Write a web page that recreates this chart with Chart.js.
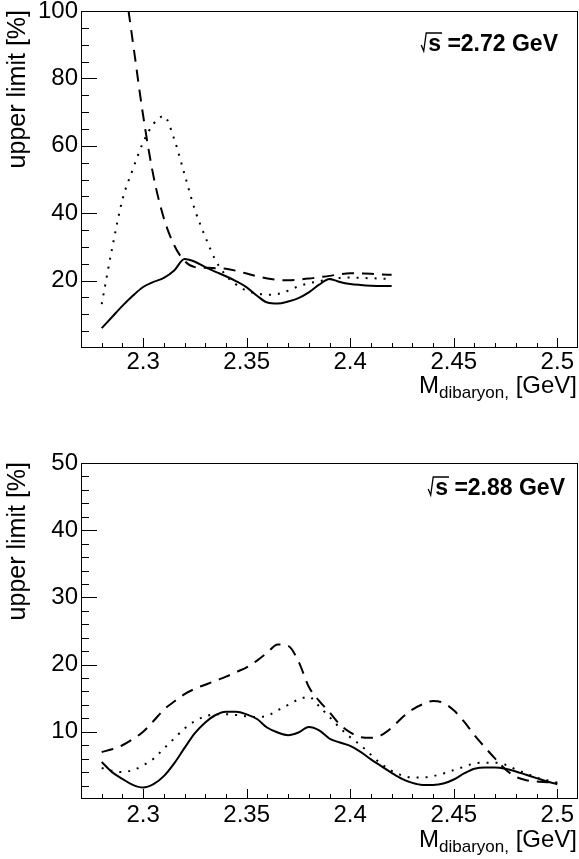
<!DOCTYPE html>
<html>
<head>
<meta charset="utf-8">
<script src="https://cdn.jsdelivr.net/npm/chart.js@4.4.0/dist/chart.umd.min.js"></script>
<style>
    html, body { margin: 0; padding: 0; background: #fff; }
    #wrap { position: relative; width: 579px; height: 859px; }
    canvas { position: absolute; left: 0; }
</style>
</head>
<body>
<div id="wrap">
    <canvas id="topChart" width="579" height="420" style="top:0"></canvas>
    <canvas id="bottomChart" width="579" height="439" style="top:420px"></canvas>
</div>
<script>
// --- sqrt(s) = 2.72 GeV panel ---
const massTop = [2.28, 2.285, 2.29, 2.295, 2.30, 2.305, 2.31, 2.315, 2.32, 2.325,
    2.33, 2.335, 2.34, 2.345, 2.35, 2.355, 2.36, 2.365, 2.37, 2.375,
    2.38, 2.385, 2.39, 2.395, 2.40, 2.405, 2.41, 2.415, 2.42];
const solidTop = [5.9, 9.2, 12.5, 15.5, 18.1, 19.6, 20.8, 23.0, 26.4, 25.6,
    24.0, 22.6, 21.3, 19.8, 18.0, 15.5, 13.5, 13.2, 13.8, 14.8,
    16.5, 18.8, 20.5, 19.6, 19.0, 18.7, 18.5, 18.4, 18.4];
const dashedTop = [165, 135, 113, 91, 69, 51, 38.5, 30.5, 25.8, 24.0,
    23.8, 23.7, 23.5, 22.9, 22.1, 21.3, 20.6, 20.2, 20.1, 20.3,
    20.6, 21.0, 21.4, 21.9, 22.2, 22.1, 22.0, 21.8, 21.7];
const dottedTop = [13, 29.5, 44, 53, 61, 66.5, 68.8, 62, 51.5, 41,
    33, 26, 21.5, 18.8, 17.0, 16.2, 15.8, 16.0, 17.0, 18.3,
    19.2, 19.8, 20.4, 20.8, 20.9, 20.8, 20.7, 20.6, 20.5];

// --- sqrt(s) = 2.88 GeV panel ---
const massBottom = [2.28, 2.285, 2.29, 2.295, 2.30, 2.305, 2.31, 2.315, 2.32, 2.325,
    2.33, 2.335, 2.34, 2.345, 2.35, 2.355, 2.36, 2.365, 2.37, 2.375,
    2.38, 2.385, 2.39, 2.395, 2.40, 2.405, 2.41, 2.415, 2.42, 2.425,
    2.43, 2.435, 2.44, 2.445, 2.45, 2.455, 2.46, 2.465, 2.47, 2.475,
    2.48, 2.485, 2.49, 2.495, 2.50];
const solidBottom = [5.5, 4.0, 3.0, 2.1, 1.7, 2.2, 3.4, 5.3, 7.6, 9.8,
    11.4, 12.5, 13.0, 13.0, 12.6, 11.9, 10.6, 9.9, 9.5, 9.9,
    10.7, 10.2, 9.0, 8.4, 7.9, 7.0, 5.9, 4.9, 3.9, 3.0,
    2.4, 2.1, 2.1, 2.3, 2.9, 3.8, 4.5, 4.7, 4.7, 4.5,
    4.1, 3.6, 3.1, 2.6, 2.2];
const dashedBottom = [7.0, 7.4, 8.0, 8.9, 10.0, 11.6, 13.3, 14.5, 15.6, 16.4,
    17.0, 17.6, 18.2, 18.9, 19.6, 20.6, 21.8, 23.0, 22.8, 20.5,
    16.7, 14.6, 12.9, 11.1, 9.9, 9.2, 9.1, 9.5, 10.6, 12.1,
    13.3, 14.1, 14.6, 14.3, 13.2, 11.5, 9.5, 7.7, 6.0, 4.4,
    3.3, 2.8, 2.6, 2.5, 2.4];
const dottedBottom = [4.6, 4.2, 4.0, 4.3, 5.0, 6.0, 7.5, 9.0, 10.5, 11.6,
    12.3, 12.6, 12.6, 12.5, 12.3, 12.2, 12.4, 13.2, 14.0, 14.8,
    15.2, 13.8, 12.2, 10.6, 9.2, 8.0, 6.6, 5.2, 4.2, 3.5,
    3.2, 3.2, 3.4, 3.8, 4.3, 4.8, 5.3, 5.4, 5.4, 5.1,
    4.4, 3.8, 3.2, 2.8, 2.4];

const xTicks = [2.3, 2.35, 2.4, 2.45, 2.5];
const FONT = '"Liberation Sans", Arial, Helvetica, sans-serif';

function toPoints(xs, ys) {
    return xs.map((x, i) => ({ x: x, y: ys[i] }));
}

// ROOT-like frame, inward ticks, axis titles and the sqrt(s) label
const rootFramePlugin = {
    id: 'rootFrame',
    afterDraw(chart, args, opts) {
        const ctx = chart.ctx;
        const a = chart.chartArea;
        const xs = chart.scales.x;
        const ys = chart.scales.y;
        ctx.save();
        ctx.strokeStyle = '#000';
        ctx.lineWidth = 1;
        ctx.strokeRect(Math.round(a.left) + 0.5, Math.round(a.top) + 0.5,
            Math.round(a.right - a.left) - 1, Math.round(a.bottom - a.top) - 1);

        // x ticks: minor every 0.01, major every 0.05
        ctx.beginPath();
        for (let i = 228; i <= 250; i++) {
            const px = Math.round(xs.getPixelForValue(i / 100)) + 0.5;
            const len = (i % 5 === 0) ? 10 : 5;
            ctx.moveTo(px, a.bottom);
            ctx.lineTo(px, a.bottom - len);
        }
        // y ticks
        for (let v = opts.yMinor; v < ys.max; v += opts.yMinor) {
            const py = Math.round(ys.getPixelForValue(v)) + 0.5;
            const len = (v % opts.yMajor === 0) ? 16 : 8;
            ctx.moveTo(a.left, py);
            ctx.lineTo(a.left + len, py);
        }
        ctx.stroke();

        // y title, right aligned to the top of the frame
        ctx.fillStyle = '#000';
        ctx.save();
        ctx.translate(25, a.top - 1);
        ctx.rotate(-Math.PI / 2);
        ctx.font = '25px ' + FONT;
        ctx.textAlign = 'right';
        ctx.textBaseline = 'alphabetic';
        ctx.fillText('upper limit [%]', 0, 0);
        ctx.restore();

        // x title: M_dibaryon, [GeV]
        ctx.textBaseline = 'alphabetic';
        ctx.textAlign = 'left';
        ctx.font = '24px ' + FONT;
        const wM = ctx.measureText('M').width;
        const wUnit = ctx.measureText(' [GeV]').width;
        ctx.font = '17px ' + FONT;
        const wSub = ctx.measureText('dibaryon,').width;
        let tx = 577 - wM - wSub - wUnit;
        const tb = a.bottom + opts.xTitleOffset;
        ctx.font = '24px ' + FONT;
        ctx.fillText('M', tx, tb);
        ctx.font = '17px ' + FONT;
        ctx.fillText('dibaryon,', tx + wM, tb + 5);
        ctx.font = '24px ' + FONT;
        ctx.fillText(' [GeV]', tx + wM + wSub, tb);

        // sqrt(s) label
        ctx.font = 'bold 23px ' + FONT;
        const txt = 's =' + opts.energy + ' GeV';
        const w = ctx.measureText(txt).width;
        const sw = ctx.measureText('s').width;
        const sx = opts.labelRight - w;
        const base = a.top + opts.labelOffset;
        ctx.fillText(txt, sx, base);
        ctx.beginPath();
        ctx.lineWidth = 1.3;
        ctx.moveTo(sx - 7, base - 6);
        ctx.lineTo(sx - 4.5, base);
        ctx.lineTo(sx - 2, base - 18);
        ctx.lineTo(sx + sw + 1, base - 18);
        ctx.stroke();
        ctx.restore();
    }
};

window.renderPanel = function (canvasId, cfg) {
    const ctx = document.getElementById(canvasId);
    if (!ctx) {
        console.error(`Canvas element ${canvasId} not found`);
        return null;
    }
    const line = (data, dash) => ({
        data: data,
        borderColor: '#000',
        borderWidth: 2,
        borderDash: dash,
        pointRadius: 0,
        fill: false,
        cubicInterpolationMode: 'monotone'
    });
    const chartConfig = {
        type: 'line',
        data: {
            datasets: [
                line(toPoints(cfg.mass, cfg.solid), []),
                line(toPoints(cfg.mass, cfg.dashed), [12, 8]),
                line(toPoints(cfg.mass, cfg.dotted), [2, 7])
            ]
        },
        options: {
            responsive: false,
            animation: false,
            devicePixelRatio: 1,
            layout: { padding: { top: cfg.padTop, right: 1, left: 0, bottom: 0 } },
            plugins: {
                legend: { display: false },
                tooltip: { enabled: false },
                rootFrame: cfg.frame
            },
            scales: {
                x: {
                    type: 'linear',
                    min: 2.27,
                    max: 2.51,
                    grid: { display: false, drawTicks: false },
                    border: { display: false },
                    afterFit: (s) => { s.height = cfg.xAxisHeight; s.paddingLeft = 0; s.paddingRight = 0; },
                    afterBuildTicks: (s) => { s.ticks = xTicks.map(v => ({ value: v })); },
                    ticks: {
                        color: '#000',
                        padding: cfg.xTickPad,
                        maxRotation: 0,
                        autoSkip: false,
                        font: { family: FONT, size: 24 },
                        callback: (v) => String(parseFloat(Number(v).toFixed(3)))
                    }
                },
                y: {
                    min: 0,
                    max: cfg.yMax,
                    grid: { display: false, drawTicks: false },
                    border: { display: false },
                    afterFit: (s) => { s.width = 81; s.paddingTop = 0; s.paddingBottom = 0; },
                    ticks: {
                        color: '#000',
                        padding: 3,
                        stepSize: cfg.yStep,
                        font: { family: FONT, size: 24 },
                        callback: (v) => (v === 0 ? '' : String(v))
                    }
                }
            }
        },
        plugins: [rootFramePlugin]
    };
    return new Chart(ctx.getContext('2d'), chartConfig);
};

window.renderPanel('topChart', {
    mass: massTop, solid: solidTop, dashed: dashedTop, dotted: dottedTop,
    padTop: 11, xAxisHeight: 72, xTickPad: 0, yMax: 100, yStep: 20,
    frame: { yMinor: 5, yMajor: 20, energy: '2.72', labelRight: 558, labelOffset: 40, xTitleOffset: 45 }
});

window.renderPanel('bottomChart', {
    mass: massBottom, solid: solidBottom, dashed: dashedBottom, dotted: dottedBottom,
    padTop: 43, xAxisHeight: 60, xTickPad: 2, yMax: 50, yStep: 10,
    frame: { yMinor: 2, yMajor: 10, energy: '2.88', labelRight: 565, labelOffset: 32, xTitleOffset: 48 }
});
</script>
</body>
</html>
